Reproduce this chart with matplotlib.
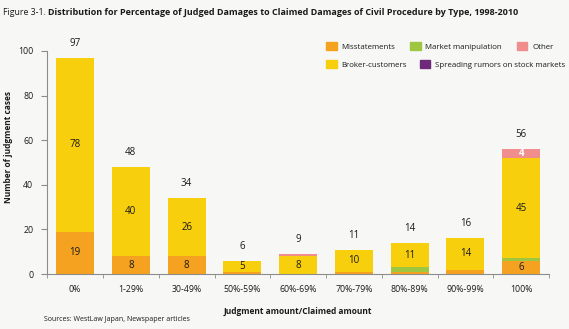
import numpy as np
import matplotlib
matplotlib.use("Agg")
import matplotlib.pyplot as plt
from matplotlib.patches import Patch

# judged/claimed ratio buckets and case counts by type
categories = ["0%", "1-29%", "30-49%", "50%-59%", "60%-69%", "70%-79%",
              "80%-89%", "90%-99%", "100%"]
misstatements = [19, 8, 8, 1, 0, 1, 1, 2, 6]
market_manip  = [0, 0, 0, 0, 0, 0, 2, 0, 1]
broker        = [78, 40, 26, 5, 8, 10, 11, 14, 45]
rumors        = [0, 0, 0, 0, 0, 0, 0, 0, 0]
other         = [0, 0, 0, 0, 1, 0, 0, 0, 4]

# which segments carry an inside label
label_miss  = [True, True, True, False, False, False, False, False, True]
label_other = [False, False, False, False, False, False, False, False, True]

BG = "#f7f8f6"
C_MISS, C_MM, C_OTHER = "#f4a21f", "#9ec641", "#ef8e8c"
C_BROKER, C_RUMOR = "#f8cf0c", "#6d2a79"
TXT = "#1a1a1a"

plt.rcParams["font.family"] = ["Open Sans", "DejaVu Sans"]

fig = plt.figure(figsize=(5.69, 3.29), dpi=100, facecolor=BG)
ax = fig.add_axes([0.083, 0.167, 0.882, 0.678], facecolor=BG)

x = np.arange(len(categories))
w = 0.68
bottom = np.zeros(len(categories))
segs = [(misstatements, C_MISS), (market_manip, C_MM), (broker, C_BROKER),
        (rumors, C_RUMOR), (other, C_OTHER)]
for vals, col in segs:
    v = np.array(vals, dtype=float)
    ax.bar(x, v, w, bottom=bottom, color=col, linewidth=0)
    bottom += v

totals = bottom
for i in range(len(categories)):
    ax.text(x[i], totals[i] + 4, f"{int(totals[i])}", ha="center", va="bottom",
            fontsize=7, color=TXT)
    if label_miss[i]:
        ax.text(x[i], misstatements[i] / 2, str(misstatements[i]), ha="center",
                va="center", fontsize=7, color=TXT)
    yb = misstatements[i] + market_manip[i]
    ax.text(x[i], yb + broker[i] / 2, str(broker[i]), ha="center", va="center",
            fontsize=7, color=TXT)
    if label_other[i]:
        yo = yb + broker[i] + rumors[i]
        ax.text(x[i], yo + other[i] / 2, str(other[i]), ha="center", va="center",
                fontsize=7, color="white", fontweight="bold")

ax.set_xlim(-0.5, len(categories) - 0.5)
ax.set_ylim(0, 100)
ax.set_yticks(np.arange(0, 101, 20))
ax.set_xticks(x)
ax.set_xticklabels(categories)
ax.set_xticks(np.arange(-0.5, len(categories)), minor=True)
ax.tick_params(axis="x", which="major", length=0, pad=8, labelsize=6.3, colors=TXT)
ax.tick_params(axis="x", which="minor", length=3, color="#8c8c8c")
ax.tick_params(axis="y", length=4, color="#8c8c8c", labelsize=6.3, labelcolor=TXT, pad=6)
for s in ["top", "right"]:
    ax.spines[s].set_visible(False)
for s in ["left", "bottom"]:
    ax.spines[s].set_color("#8c8c8c")
    ax.spines[s].set_linewidth(0.8)

ax.set_ylabel("Number of judgment cases", fontsize=6, fontweight="bold", color=TXT)
ax.yaxis.set_label_coords(-0.068, 0.57)
ax.set_xlabel("Judgment amount/Claimed amount", fontsize=6, fontweight="bold", color=TXT, labelpad=9)

# title: plain figure number followed by the bold caption
head = fig.text(0.006, 0.975, "Figure 3-1.", fontsize=6.3, color=TXT, va="top")
r = fig.canvas.get_renderer()
end = head.get_window_extent(r).x1
fig.text((end + 2) / fig.bbox.width, 0.975,
         "Distribution for Percentage of Judged Damages to Claimed Damages of Civil Procedure by Type, 1998-2010",
         fontsize=6.5, color=TXT, va="top", fontweight="bold")
fig.text(0.077, 0.03, "Sources: WestLaw Japan, Newspaper articles", fontsize=5, color=TXT, va="center")

kw = dict(frameon=False, fontsize=5.7, handlelength=1.3, handleheight=1.3,
          handletextpad=0.6, borderaxespad=0, labelcolor=TXT)
fig.legend([Patch(color=C_MISS), Patch(color=C_MM), Patch(color=C_OTHER)],
           ["Misstatements", "Market manipulation", "Other"],
           ncol=3, columnspacing=1.9, loc="center left",
           bbox_to_anchor=(0.568, 0.860), **kw)
fig.legend([Patch(color=C_BROKER), Patch(color=C_RUMOR)],
           ["Broker-customers", "Spreading rumors on stock markets"],
           ncol=2, columnspacing=1.6, loc="center left",
           bbox_to_anchor=(0.568, 0.805), **kw)

fig.savefig("out.png", dpi=100, facecolor=BG)
